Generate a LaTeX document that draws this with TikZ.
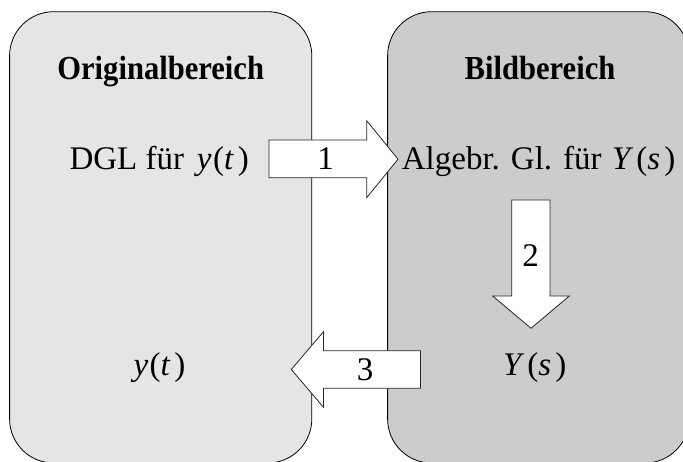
\documentclass[tikz,border=0pt]{standalone}
\usepackage{fontspec}
\setmainfont{Liberation Serif}
% headings: slightly narrowed bold serif
\newfontfamily\headfont[FakeStretch=0.91]{Liberation Serif}
\definecolor{origfill}{HTML}{E5E5E5}
\definecolor{bildfill}{HTML}{CCCCCC}
% function notation with the loose spacing of an equation editor
\newcommand\fnof[3]{\textit{#1}\kern#3(\textit{#2}\kern4pt)}
\begin{document}
\begin{tikzpicture}[x=1pt,y=-1pt,
  region/.style={draw=black,line width=0.8pt,rounded corners=44pt},
  blockarrow/.style={draw=black!85,line width=0.8pt,fill=white,line join=miter},
  title/.style={inner sep=0pt,anchor=base,font=\headfont\fontsize{33.6}{38}\selectfont\bfseries},
  term/.style={inner sep=0pt,anchor=base west,font=\fontsize{33}{38}\selectfont},
  step label/.style={inner sep=0pt,anchor=base,font=\fontsize{33}{38}\selectfont}]
\useasboundingbox (0,0) rectangle (683,462);
\clip (0,0) rectangle (683,462);

% the two domains
\path[region,fill=origfill] (9.6,11.7) rectangle (311.8,463);
\path[region,fill=bildfill] (387.6,11.7) rectangle (689,463);

\node[title] (orig) at (160.7,79.3) {Originalbereich};
\node[title] (bild) at (540,79.3) {Bildbereich};

% terms in each domain
\node[term] (dgl) at (69.3,170) {DGL für\kern12.9pt\fnof{y}{t}{1.5pt}};
\node[term] (alg) at (401.7,170) {Algebr. Gl. für\kern10.5pt\fnof{Y}{s}{3pt}};
\node[term] (yt) at (133.3,376) {\fnof{y}{t}{1.5pt}};
\node[term] (Ys) at (503,376) {\fnof{Y}{s}{3pt}};

% step 1: transform into the image domain
\draw[blockarrow] (269,140) -- (366.7,140) -- (366.7,120.7) -- (398,159.2)
  -- (366.7,197.7) -- (366.7,177.7) -- (269,177.7) -- cycle;
\node[step label] (s1) at (325.5,170) {1};

% step 2: solve the algebraic equation
\draw[blockarrow] (511.7,200) -- (550,200) -- (550,296) -- (569.3,296)
  -- (531,328.3) -- (492.7,296) -- (511.7,296) -- cycle;
\node[step label] (s2) at (530.5,266.5) {2};

% step 3: transform back
\draw[blockarrow] (420.5,350.7) -- (323.5,350.7) -- (323.5,331.7) -- (291.3,369.5)
  -- (323.5,407.3) -- (323.5,388.3) -- (420.5,388.3) -- cycle;
\node[step label] (s3) at (365,380.5) {3};
\end{tikzpicture}
\end{document}
